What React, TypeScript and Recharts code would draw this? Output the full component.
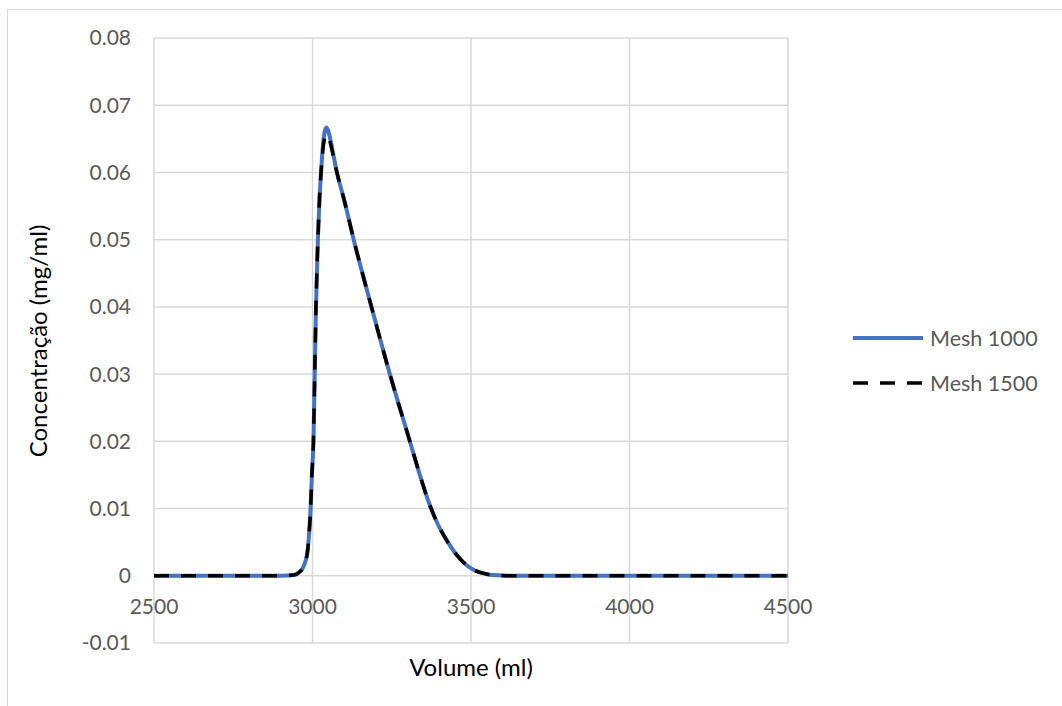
import {
  LineChart,
  Line,
  XAxis,
  YAxis,
  CartesianGrid,
} from 'recharts';

const volume = [
  2500, 2600, 2700, 2800, 2900, 2940, 2960, 2970, 2978, 2984, 2988, 2991, 2994, 2998,
  3003, 3007, 3011, 3017, 3022, 3027, 3032, 3037, 3043, 3048, 3055, 3065, 3077, 3100,
  3130, 3186, 3244, 3304, 3340, 3367, 3395, 3423, 3450, 3476, 3500, 3528, 3555, 3580,
  3620, 3700, 3800, 4000, 4200, 4500,
];

const mesh1000 = [
  0, 0, 0, 0, 0, 0.0001, 0.0006, 0.0012, 0.0022, 0.0035, 0.0055, 0.0075, 0.01, 0.015,
  0.02, 0.03, 0.04, 0.05, 0.056, 0.06, 0.0635, 0.0657, 0.0667, 0.0664, 0.0652, 0.0628, 0.06, 0.0559,
  0.05, 0.04, 0.03, 0.0205, 0.0148, 0.0109, 0.0077, 0.0053, 0.0034, 0.002, 0.0011, 0.0005, 0.0002, 0.00007,
  0, 0, 0, 0, 0, 0,
];

const mesh1500 = [
  0, 0, 0, 0, 0, 0.0001, 0.0006, 0.0012, 0.0022, 0.0035, 0.0055, 0.0075, 0.01, 0.015,
  0.02, 0.03, 0.04, 0.05, 0.056, 0.06, 0.063, 0.0648, 0.0656, 0.0655, 0.0646, 0.0626, 0.06, 0.0559,
  0.05, 0.04, 0.03, 0.0205, 0.0148, 0.0109, 0.0077, 0.0053, 0.0034, 0.002, 0.0011, 0.0005, 0.0002, 0.00007,
  0, 0, 0, 0, 0, 0,
];

const xTicks = [2500, 3000, 3500, 4000, 4500];
const yTicks = [-0.01, 0, 0.01, 0.02, 0.03, 0.04, 0.05, 0.06, 0.07, 0.08];
const seriesNames = ['Mesh 1000', 'Mesh 1500'];
const seriesColors = ['#4472c4', '#000000'];

const data = volume.map((v, i) => ({ v, m1000: mesh1000[i], m1500: mesh1500[i] }));

const W = 1062;
const H = 706;
const PLOT_TOP = 38;
const PLOT_LEFT = 154;
const PLOT_RIGHT = 788;
const PLOT_BOTTOM = 643;
const Y_MIN = -0.01;
const Y_MAX = 0.08;
const FONT = 'Lato, "Open Sans", sans-serif';
const TICK_COLOR = '#595959';
const DASH = '15 12';

// the horizontal axis crosses at y = 0, so its labels sit under that line
const zeroY = PLOT_TOP + ((PLOT_BOTTOM - PLOT_TOP) * Y_MAX) / (Y_MAX - Y_MIN);

const fmtY = (v: number) => (Math.abs(v) < 1e-9 ? '0' : v.toFixed(2));

function XTick(props: any) {
  const { x, payload } = props;
  return (
    <text
      x={x}
      y={zeroY + 31}
      dy="0.355em"
      textAnchor="middle"
      fill={TICK_COLOR}
      fontSize={21}
      fontFamily={FONT}
    >
      {payload.value}
    </text>
  );
}

function LegendBox() {
  return (
    <svg width={220} height={100} style={{ position: 'fixed', left: 851, top: 322 }}>
      {seriesNames.map((name, i) => {
        const y = 16 + i * 45;
        const dashed = i === 1;
        return (
          <g key={name}>
            <line
              x1={2}
              x2={72}
              y1={y}
              y2={y}
              stroke={seriesColors[i]}
              strokeWidth={dashed ? 3.5 : 4}
              strokeDasharray={dashed ? DASH : undefined}
            />
            <text x={79} y={y} dy="0.355em" fill={TICK_COLOR} fontSize={21.5} fontFamily={FONT}>
              {name}
            </text>
          </g>
        );
      })}
    </svg>
  );
}

export default function App() {
  return (
    <div style={{ position: 'fixed', left: 0, top: 0, width: W, height: H, background: '#fff' }}>
      <div
        style={{
          position: 'fixed',
          left: 7,
          top: 9,
          width: 1100,
          height: 740,
          border: '1px solid #d9d9d9',
        }}
      />
      <div style={{ position: 'fixed', left: 0, top: 0 }}>
        <LineChart
          width={W}
          height={H}
          data={data}
          margin={{ top: PLOT_TOP, right: W - PLOT_RIGHT, left: PLOT_LEFT - 60, bottom: H - PLOT_BOTTOM - 40 }}
        >
          <CartesianGrid stroke="#d9d9d9" strokeWidth={1.5} />
          <XAxis
            dataKey="v"
            type="number"
            domain={[2500, 4500]}
            ticks={xTicks}
            height={40}
            axisLine={false}
            tickLine={false}
            tick={<XTick />}
            label={{
              content: () => (
                <text
                  x={(PLOT_LEFT + PLOT_RIGHT) / 2}
                  y={667}
                  dy="0.355em"
                  textAnchor="middle"
                  fill="#000"
                  fontSize={24}
                  fontFamily={FONT}
                >
                  Volume (ml)
                </text>
              ),
            }}
          />
          <YAxis
            type="number"
            domain={[Y_MIN, Y_MAX]}
            ticks={yTicks}
            width={60}
            axisLine={false}
            tickLine={false}
            tickMargin={17}
            tickFormatter={fmtY}
            tick={{ fill: TICK_COLOR, fontSize: 21, fontFamily: FONT }}
            label={{
              content: () => (
                <text
                  x={38}
                  y={341}
                  dy="0.355em"
                  textAnchor="middle"
                  transform="rotate(-90 38 341)"
                  fill="#000"
                  fontSize={24}
                  fontFamily={FONT}
                >
                  Concentração (mg/ml)
                </text>
              ),
            }}
          />
          <Line
            dataKey="m1000"
            name={seriesNames[0]}
            type="monotone"
            stroke={seriesColors[0]}
            strokeWidth={4}
            dot={false}
            isAnimationActive={false}
          />
          <Line
            dataKey="m1500"
            name={seriesNames[1]}
            type="monotone"
            stroke={seriesColors[1]}
            strokeWidth={3.5}
            strokeDasharray={DASH}
            dot={false}
            isAnimationActive={false}
          />
        </LineChart>
      </div>
      <LegendBox />
    </div>
  );
}
